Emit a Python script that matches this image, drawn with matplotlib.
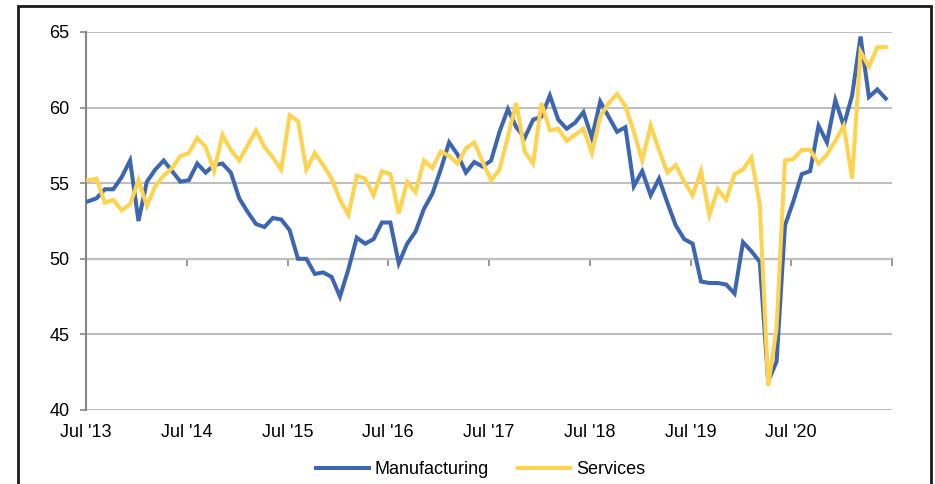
import numpy as np
import matplotlib
matplotlib.use("Agg")
import matplotlib.pyplot as plt
from matplotlib.patches import Rectangle

# Monthly readings, Jul 2013 .. Jun 2021
manufacturing = [
    53.8, 54.0, 54.6, 54.6, 55.4, 56.5, 52.5, 55.1, 55.9, 56.5, 55.8, 55.1,
    55.2, 56.3, 55.7, 56.2, 56.3, 55.7, 54.0, 53.1, 52.3, 52.1, 52.7, 52.6,
    51.9, 50.0, 50.0, 49.0, 49.1, 48.8, 47.5, 49.3, 51.4, 51.0, 51.3, 52.4,
    52.4, 49.7, 51.0, 51.8, 53.3, 54.3, 55.9, 57.7, 56.9, 55.7, 56.4, 56.1,
    56.5, 58.4, 59.9, 58.7, 58.0, 59.2, 59.4, 60.8, 59.2, 58.6, 59.0, 59.7,
    58.0, 60.4, 59.4, 58.4, 58.7, 54.8, 55.8, 54.2, 55.3, 53.7, 52.2, 51.3,
    51.0, 48.5, 48.4, 48.4, 48.3, 47.7, 51.1, 50.5, 49.8, 41.9, 43.2, 52.2,
    53.8, 55.6, 55.8, 58.8, 57.7, 60.5, 58.8, 60.8, 64.7, 60.7, 61.2, 60.6,
]
services = [
    55.2, 55.3, 53.7, 53.9, 53.2, 53.6, 55.2, 53.5, 54.8, 55.5, 56.0, 56.8,
    57.0, 58.0, 57.4, 55.8, 58.2, 57.2, 56.5, 57.5, 58.5, 57.4, 56.7, 55.9,
    59.5, 59.1, 55.9, 57.0, 56.2, 55.3, 53.9, 52.9, 55.5, 55.3, 54.2, 55.8,
    55.6, 53.0, 55.1, 54.4, 56.5, 56.0, 57.1, 56.8, 56.3, 57.3, 57.7, 56.4,
    55.2, 55.9, 58.1, 60.3, 57.1, 56.3, 60.3, 58.5, 58.6, 57.8, 58.2, 58.6,
    57.0, 59.4, 60.3, 60.9, 60.1, 58.4, 56.5, 58.8, 57.2, 55.7, 56.2, 55.1,
    54.2, 55.8, 52.9, 54.6, 53.9, 55.6, 55.9, 56.7, 53.6, 41.6, 45.4, 56.5,
    56.6, 57.2, 57.2, 56.3, 56.9, 57.8, 58.8, 55.3, 63.7, 62.7, 64.0, 64.0,
]
tick_labels = ["Jul '13", "Jul '14", "Jul '15", "Jul '16", "Jul '17",
               "Jul '18", "Jul '19", "Jul '20", ""]

plt.rcParams['font.family'] = ['Liberation Sans', 'DejaVu Sans']

months = np.arange(len(manufacturing)) + 0.25

fig = plt.figure(figsize=(9.35, 4.84), dpi=100)
ax = fig.add_axes([86 / 935, 1 - 410 / 484, (892 - 86) / 935, (410 - 32) / 484])

blue = '#3C66B1'
yellow = '#FFD34E'
ax.plot(months, manufacturing, color=blue, lw=2.9, label='Manufacturing',
        solid_joinstyle='miter', zorder=3)
ax.plot(months, services, color=yellow, lw=2.9, label='Services',
        solid_joinstyle='miter', zorder=4)

ax.set_xlim(0, 96)
ax.set_ylim(40, 65)
ax.set_yticks([40, 45, 50, 55, 60, 65])
ax.set_xticks(np.arange(0, 97, 12))
ax.set_xticklabels(tick_labels)

# grid
ax.yaxis.grid(True, color='#BFBFBF', lw=1.5)
ax.set_axisbelow(True)
for s in ['top', 'right', 'bottom']:
    ax.spines[s].set_visible(False)
ax.spines['left'].set_color('#868686')
ax.spines['left'].set_linewidth(1.5)

ax.tick_params(axis='y', direction='out', length=4, width=1.2, color='#868686',
               labelsize=13, pad=8)
ax.tick_params(axis='x', length=0, labelsize=13, pad=10)

# horizontal axis crosses at 50
sec = ax.secondary_xaxis(0.4)
sec.set_xticks(np.arange(0, 97, 12))
sec.tick_params(axis='x', direction='out', length=5, width=1.2, color='#868686',
                labelbottom=False, labeltop=False, bottom=True, top=False)
sec.spines['bottom'].set_color('#868686')
sec.spines['bottom'].set_linewidth(1.5)
for s in ['top', 'left', 'right']:
    sec.spines[s].set_visible(False)

fig.legend(loc='center', bbox_to_anchor=(481 / 935, 1 - 470 / 484), ncol=2,
           frameon=False, fontsize=13, handlelength=2.9, handletextpad=0.35,
           columnspacing=1.6)

# outer frame
fig.patches.append(Rectangle((18 / 935, -0.05), (931 - 18) / 935, 1.05 - 6 / 484,
                             transform=fig.transFigure, fill=False,
                             edgecolor='#1A1A1A', lw=2))

fig.savefig('out.png', dpi=100)
